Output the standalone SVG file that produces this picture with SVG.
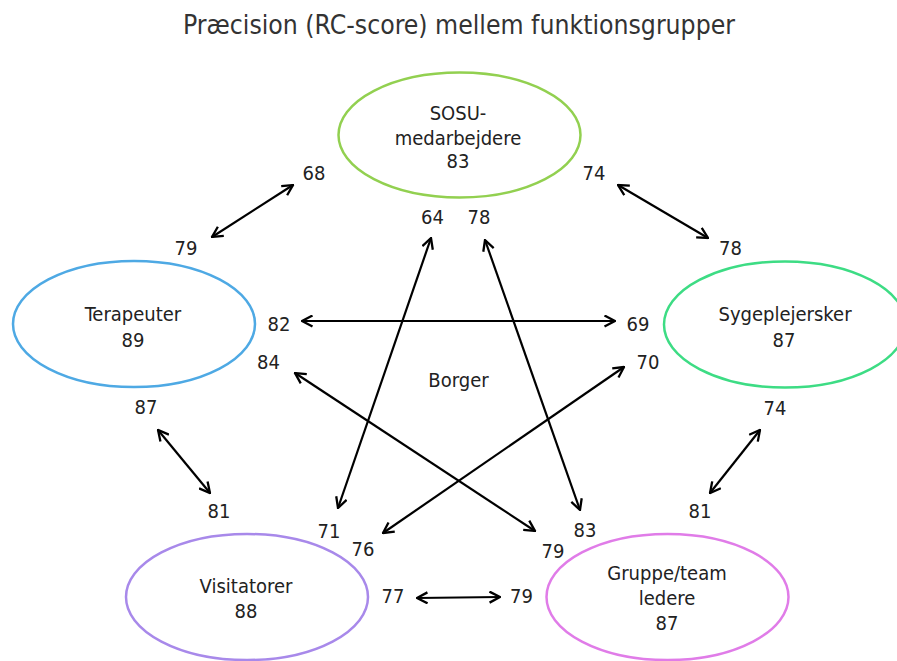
<svg xmlns="http://www.w3.org/2000/svg" width="897" height="661" viewBox="0 0 897 661">
  <style>
    text { font-family: "DejaVu Sans Condensed", "DejaVu Sans", sans-serif; font-stretch: condensed; text-anchor: middle; fill: #222; }
    .title { font-size: 26px; fill: #333; }
    .lbl { font-size: 20px; }
    .num { font-size: 20px; }
    .node ellipse { fill: none; stroke-width: 2.5; }
    .conn line { stroke: #000; stroke-width: 2.2; marker-start: url(#head); marker-end: url(#head); }
  </style>
  <defs>
    <marker id="head" viewBox="0 0 13 13" refX="12" refY="6.5" markerWidth="13" markerHeight="13" markerUnits="userSpaceOnUse" orient="auto-start-reverse">
      <path d="M1.5,1 L12,6.5 L1.5,12" fill="none" stroke="#000" stroke-width="2.3"/>
    </marker>
  </defs>
  <rect width="897" height="661" fill="#fff"/>

  <text class="title" x="459" y="34" textLength="552" lengthAdjust="spacingAndGlyphs">Præcision (RC-score) mellem funktionsgrupper</text>

  <g id="sosu" class="node">
    <ellipse cx="459.5" cy="135" rx="121" ry="62.5" stroke="#92D050"/>
    <text class="lbl" x="458" y="120">SOSU-</text>
    <text class="lbl" x="458" y="145">medarbejdere</text>
    <text class="lbl" x="458" y="168">83</text>
  </g>
  <g id="terapeuter" class="node">
    <ellipse cx="134" cy="324" rx="121" ry="63" stroke="#4EA9E4"/>
    <text class="lbl" x="133" y="321">Terapeuter</text>
    <text class="lbl" x="133" y="347">89</text>
  </g>
  <g id="sygeplejersker" class="node">
    <ellipse cx="785" cy="324.5" rx="121" ry="63" stroke="#3DDC84"/>
    <text class="lbl" x="785" y="321">Sygeplejersker</text>
    <text class="lbl" x="784" y="347">87</text>
  </g>
  <g id="visitatorer" class="node">
    <ellipse cx="247" cy="597" rx="121" ry="63" stroke="#A889EA"/>
    <text class="lbl" x="246" y="593">Visitatorer</text>
    <text class="lbl" x="246" y="618">88</text>
  </g>
  <g id="gruppeledere" class="node">
    <ellipse cx="667.5" cy="597" rx="121" ry="63" stroke="#E07CE8"/>
    <text class="lbl" x="667" y="580">Gruppe/team</text>
    <text class="lbl" x="667" y="605">ledere</text>
    <text class="lbl" x="667" y="630">87</text>
  </g>
  <g id="borger" class="node">
    <text class="lbl" x="458.5" y="387">Borger</text>
  </g>

  <g id="connectors" class="conn">
    <line x1="212" y1="237" x2="293" y2="185"/>
    <line x1="618" y1="185" x2="708" y2="238"/>
    <line x1="302" y1="321" x2="615" y2="321"/>
    <line x1="431" y1="238" x2="338" y2="508"/>
    <line x1="485" y1="240" x2="580" y2="510"/>
    <line x1="295" y1="373" x2="535" y2="531"/>
    <line x1="624" y1="367" x2="383" y2="533"/>
    <line x1="158" y1="430" x2="210" y2="493"/>
    <line x1="760" y1="430" x2="710" y2="493"/>
    <line x1="417" y1="598" x2="500" y2="597"/>
  </g>

  <g id="scores" class="num">
    <text x="314" y="180">68</text>
    <text x="594" y="180">74</text>
    <text x="432.5" y="224">64</text>
    <text x="479" y="224">78</text>
    <text x="186" y="255">79</text>
    <text x="730.5" y="255">78</text>
    <text x="279" y="331">82</text>
    <text x="638" y="331">69</text>
    <text x="268.5" y="369">84</text>
    <text x="648" y="369">70</text>
    <text x="146" y="414">87</text>
    <text x="775" y="415">74</text>
    <text x="219" y="518">81</text>
    <text x="700" y="518">81</text>
    <text x="329" y="538">71</text>
    <text x="585" y="537">83</text>
    <text x="363" y="556">76</text>
    <text x="553" y="558">79</text>
    <text x="393" y="603">77</text>
    <text x="521.5" y="603">79</text>
  </g>
</svg>
